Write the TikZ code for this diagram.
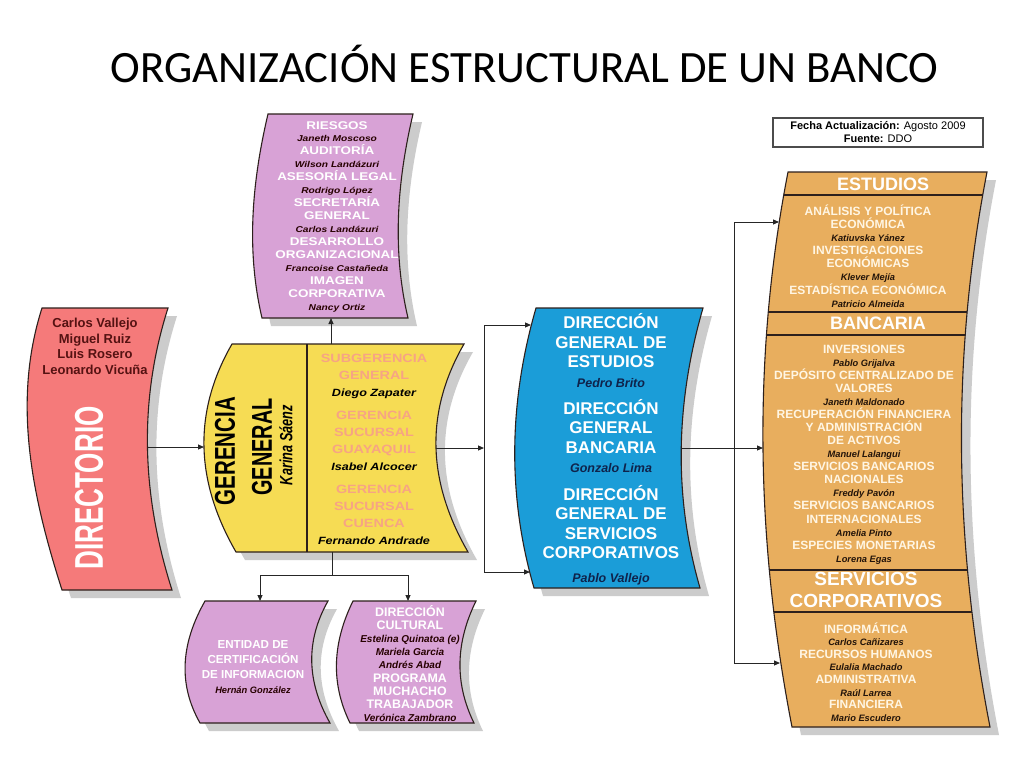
\documentclass[tikz,border=0pt]{standalone}
\usepackage{graphicx}
\usepackage{fontspec}
\setmainfont{Liberation Sans}
\newfontfamily\titfont{Carlito}
\newfontfamily\anchafont{Liberation Sans}[FakeStretch=1.2]
\usetikzlibrary{arrows.meta}

\definecolor{morado}{RGB}{216,162,214}
\definecolor{rojo}{RGB}{245,122,122}
\definecolor{amarillo}{RGB}{246,220,84}
\definecolor{azul}{RGB}{27,157,216}
\definecolor{naranja}{RGB}{232,174,94}
\definecolor{sombra}{RGB}{204,204,204}
\definecolor{borde}{RGB}{45,32,28}
\definecolor{salmon}{RGB}{246,164,132}
\definecolor{crema}{RGB}{255,246,228}
\definecolor{nmc}{RGB}{0,0,0}

% outline of a box whose two sides bow out to the left
\newcommand{\bowpath}[7]{(#3,#1) -- (#5,#1)
  .. controls ({#5-#7},{#1+(#2-#1)/3}) and ({#6-#7},{#2-(#2-#1)/3}) .. (#6,#2)
  -- (#4,#2)
  .. controls ({#4-#7},{#2-(#2-#1)/3}) and ({#3-#7},{#1+(#2-#1)/3}) .. (#3,#1) -- cycle}
\newcommand{\bowbox}[8]{%
  \fill[sombra,shift={(9,8)}] \bowpath{#2}{#3}{#4}{#5}{#6}{#7}{#8};
  \filldraw[fill=#1,draw=borde,line width=1.1pt] \bowpath{#2}{#3}{#4}{#5}{#6}{#7}{#8};}
\newcommand{\nm}[2][9.3]{{\fontsize{#1}{\baselineskip}\selectfont\bfseries\itshape\color{nmc}#2}}

\begin{document}
\begin{tikzpicture}[x=1pt,y=-1pt,
  link/.style={draw=black!85,line width=1pt,-{Triangle[length=6pt,width=5pt]}},
  raya/.style={draw=black!85,line width=1pt},
  txt/.style={inner sep=0pt,align=center},
  nmcol/.style={execute at begin node={\colorlet{nmc}{#1}}}]
\fill[white] (0,0) rectangle (1024,768);
\useasboundingbox (0,0) rectangle (1024,768);

\node[anchor=base,font=\titfont\fontsize{44.8}{50}\selectfont] (titulo) at (524.5,82) {ORGANIZACIÓN ESTRUCTURAL DE UN BANCO};

\node[draw=black!70,line width=1.2pt,minimum width=210,minimum height=29,align=center,inner sep=0pt,
  font=\fontsize{11}{13}\selectfont] (fecha) at (878,132.5)
  {{\bfseries Fecha Actualización:} Agosto 2009\\{\bfseries Fuente:} DDO};

% boxes
\bowbox{morado}{114}{318}{268}{262}{413}{408}{16}
\bowbox{rojo}{308}{590}{42}{62}{168}{172}{30}
\bowbox{amarillo}{344}{552}{232}{236}{464}{468}{40}
\draw[borde,line width=1.1pt] (307,344) -- (307,552);
\bowbox{azul}{308}{588}{536}{534}{703}{700}{27}
\bowbox{naranja}{172}{727}{788}{792}{987}{990}{36}
\begin{scope}
\clip \bowpath{172}{727}{788}{792}{987}{990}{36};
\draw[borde,line width=1.1pt] (700,195) -- (1000,195) (700,312) -- (1000,312)
  (700,335) -- (1000,335) (700,570) -- (1000,570) (700,612) -- (1000,612);
\end{scope}
\bowbox{morado}{601}{723}{205}{200}{328}{330}{23}
\bowbox{morado}{601}{723}{353}{350}{476}{474}{20}

% connection points
\coordinate (dirE) at (148,447);
\coordinate (gerW) at (204,447);
\coordinate (gerN) at (331,344);
\coordinate (riesS) at (331,318);
\coordinate (gerE) at (436,448);
\coordinate (brA) at (484,448);
\coordinate (brAt) at (484,325);
\coordinate (brAb) at (484,572);
\coordinate (azulNW) at (531,325);
\coordinate (azulSW) at (530,572);
\coordinate (azulE) at (681,448);
\coordinate (narW) at (763,448);
\coordinate (brBt) at (734,222);
\coordinate (brBb) at (734,663);
\coordinate (narNW) at (779,222);
\coordinate (narSW) at (780,663);
\coordinate (gerS) at (332,552);
\coordinate (junta) at (332,575);
\coordinate (juntaL) at (260,575);
\coordinate (juntaR) at (408,575);
\coordinate (entN) at (260,601);
\coordinate (culN) at (408,601);

\draw[link] (dirE) -- (gerW);
\draw[link] (gerN) -- (riesS);
\draw[link] (gerE) -- (brA);
\draw[raya] (brAt) -- (brAb);
\draw[link] (brAt) -- (azulNW);
\draw[link] (brAb) -- (azulSW);
\draw[link] (azulE) -- (narW);
\draw[raya] (brBt) -- (brBb);
\draw[link] (brBt) -- (narNW);
\draw[link] (brBb) -- (narSW);
\draw[raya] (gerS) -- (junta);
\draw[raya] (juntaL) -- (juntaR);
\draw[link] (juntaL) -- (entN);
\draw[link] (juntaR) -- (culN);

% texts
\node[txt,text=white,nmcol={black!85!red},font=\anchafont\fontsize{11.2}{12.93}\selectfont\bfseries] (riesgos) at (337,216.5)
  {RIESGOS\\\nm[8.5]{Janeth Moscoso}\\AUDITORÍA\\\nm[8.5]{Wilson Landázuri}\\ASESORÍA LEGAL\\\nm[8.5]{Rodrigo López}\\
   SECRETARÍA\\GENERAL\\\nm[8.5]{Carlos Landázuri}\\DESARROLLO\\ORGANIZACIONAL\\\nm[8.5]{Francoise Castañeda}\\
   IMAGEN\\CORPORATIVA\\\nm[8.5]{Nancy Ortiz}};

\node[txt,text={rgb,255:red,85;green,18;blue,18},font=\fontsize{13}{15.6}\selectfont\bfseries] (consejo) at (95,346.5)
  {Carlos Vallejo\\Miguel Ruiz\\Luis Rosero\\Leonardo Vicuña};
\node[rotate=90,inner sep=0pt,text=white] (directorio) at (89,488) {\resizebox{163pt}{28pt}{\bfseries DIRECTORIO}};

\node[rotate=90,inner sep=0pt] (gerencia) at (225,451) {\resizebox{108pt}{20pt}{\bfseries GERENCIA}};
\node[rotate=90,inner sep=0pt] (general) at (262,447) {\resizebox{97pt}{20pt}{\bfseries GENERAL}};
\node[rotate=90,inner sep=0pt] (karina) at (286,445) {\resizebox{80pt}{13pt}{\bfseries\itshape Karina Sáenz}};
\node[txt,text=salmon,nmcol=black,font=\anchafont\fontsize{12}{17}\selectfont\bfseries] (sucursales) at (374,449)
  {SUBGERENCIA\\GENERAL\\\nm[10.5]{Diego Zapater}\\[6pt]GERENCIA\\SUCURSAL\\GUAYAQUIL\\\nm[10.5]{Isabel Alcocer}\\[6pt]
   GERENCIA\\SUCURSAL\\CUENCA\\\nm[10.5]{Fernando Andrade}};

\node[txt,text=white,nmcol={rgb,255:red,15;green,35;blue,75},font=\fontsize{17}{19.5}\selectfont\bfseries] (direcciones) at (611,449.5)
  {DIRECCIÓN\\GENERAL DE\\ESTUDIOS\\\nm[12.5]{Pedro Brito}\\[7.5pt]DIRECCIÓN\\GENERAL\\BANCARIA\\\nm[12.5]{Gonzalo Lima}\\[8pt]
   DIRECCIÓN\\GENERAL DE\\SERVICIOS\\CORPORATIVOS\\[4.5pt]\nm[12.5]{Pablo Vallejo}};

\node[txt,text=white,font=\fontsize{18}{22}\selectfont\bfseries] (estudios) at (883,184) {ESTUDIOS};
\node[txt,text=crema,nmcol={rgb,255:red,35;green,20;blue,10},font=\fontsize{12}{13.14}\selectfont\bfseries] (estudiosB) at (868,256)
  {ANÁLISIS Y POLÍTICA\\ECONÓMICA\\\nm{Katiuvska Yánez}\\INVESTIGACIONES\\ECONÓMICAS\\\nm{Klever Mejía}\\
   ESTADÍSTICA ECONÓMICA\\\nm{Patricio Almeida}};
\node[txt,text=white,font=\fontsize{18}{22}\selectfont\bfseries] (bancaria) at (878,323) {BANCARIA};
\node[txt,text=crema,nmcol={rgb,255:red,35;green,20;blue,10},font=\fontsize{12}{13.06}\selectfont\bfseries] (bancariaB) at (864,454.5)
  {INVERSIONES\\\nm{Pablo Grijalva}\\DEPÓSITO CENTRALIZADO DE\\VALORES\\\nm{Janeth Maldonado}\\
   RECUPERACIÓN FINANCIERA\\Y ADMINISTRACIÓN\\DE ACTIVOS\\\nm{Manuel Lalangui}\\SERVICIOS BANCARIOS\\NACIONALES\\
   \nm{Freddy Pavón}\\SERVICIOS BANCARIOS\\INTERNACIONALES\\\nm{Amelia Pinto}\\ESPECIES MONETARIAS\\\nm{Lorena Egas}};
\node[txt,text=white,font=\fontsize{19}{22}\selectfont\bfseries] (servicios) at (866,590) {SERVICIOS\\CORPORATIVOS};
\node[txt,text=crema,nmcol={rgb,255:red,35;green,20;blue,10},font=\fontsize{12}{12.57}\selectfont\bfseries] (serviciosB) at (866,672)
  {INFORMÁTICA\\\nm{Carlos Cañizares}\\RECURSOS HUMANOS\\\nm{Eulalia Machado}\\ADMINISTRATIVA\\\nm{Raúl Larrea}\\
   FINANCIERA\\\nm{Mario Escudero}};

\node[txt,text=white,nmcol={black!85!red},font=\fontsize{11.6}{14.7}\selectfont\bfseries] (entidad) at (253,667)
  {ENTIDAD DE\\CERTIFICACIÓN\\DE INFORMACION\\\nm{Hernán González}};
\node[txt,text=white,nmcol={black!85!red},font=\fontsize{12.4}{13.1}\selectfont\bfseries] (cultural) at (410,663.5)
  {DIRECCIÓN\\CULTURAL\\\nm[10]{Estelina Quinatoa (e)}\\\nm[10]{Mariela Garcia}\\\nm[10]{Andrés Abad}\\
   PROGRAMA\\MUCHACHO\\TRABAJADOR\\\nm[10]{Verónica Zambrano}};
\end{tikzpicture}
\end{document}
